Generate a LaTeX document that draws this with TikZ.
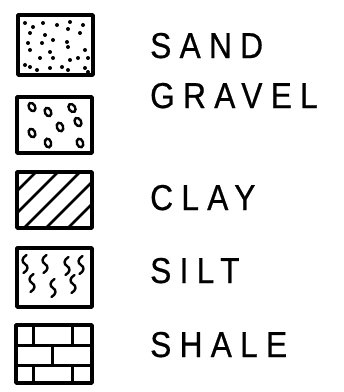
\documentclass[tikz,border=0pt]{standalone}
\usepackage{fontspec}
\setmainfont{Liberation Sans}[LetterSpace=23, FakeStretch=0.88, FakeBold=0.6]
\tikzset{
  x=1pt, y=-1pt,
  legbox/.style={draw, line width=3.4pt, line join=round},
  label/.style={anchor=base west, inner sep=0pt, font=\fontsize{36}{40}\selectfont},
  hatch/.style={line width=2.8pt},
  pebble/.style={line width=2.4pt},
  wisp/.style={line width=2.4pt, line cap=round},
  brick/.style={line width=3pt},
  pics/squig/.style={code={\draw[wisp] (1.5,-9) .. controls (-3.5,-6) and (-3.5,-2) .. (0,0) .. controls (3.5,2) and (3.5,6) .. (-1.5,9);}}
}
\begin{document}
\begin{tikzpicture}
\useasboundingbox (0,0) rectangle (344,392);
% sand
\coordinate (s1) at (18,15); \coordinate (s2) at (93,75);
\foreach \p in {(25,23),(33,27),(43,23),(57,25),(70,22),(68,29),(83,25),(30,33),(45,35),(80,33),(28,43),(42,43),(53,40),(67,42),(68,47),(30,50),(50,52),(85,50),(40,58),(53,58),(70,60),(78,58),(88,58),(25,65),(30,67),(37,70),(50,68),(62,67),(68,70),(85,68),(88,72)}
  \fill \p circle (2);
\draw[legbox] (s1) rectangle (s2);
\node[label] (tsand) at (150,58) {SAND};
% gravel
\coordinate (g1) at (17,97); \coordinate (g2) at (92,153);
\foreach \p/\a in {(32,107)/30,(48,112)/25,(72,108)/35,(78,122)/30,(60,127)/20,(32,133)/25,(48,143)/15,(80,143)/20}
  \draw[pebble, rotate around={\a:\p}] \p ellipse (3.1 and 4.4);
\draw[legbox] (g1) rectangle (g2);
\node[label] (tgravel) at (150,108) {GRAVEL};
% clay
\coordinate (c1) at (17,172); \coordinate (c2) at (92,228);
\begin{scope}
  \clip (c1) rectangle (c2);
  \foreach \c in {208,230,252,274,296,318}
    \draw[hatch] (\c-240,240) -- (\c-160,160);
\end{scope}
\draw[legbox] (c1) rectangle (c2);
\node[label] (tclay) at (150,210) {CLAY};
% silt
\coordinate (t1) at (17,248); \coordinate (t2) at (92,307);
\foreach \p in {(25,264),(32,283),(45,264),(53,288),(67,266),(73,284),(81,265)}
  \pic at \p {squig};
\draw[legbox] (t1) rectangle (t2);
\node[label] (tsilt) at (150,283) {SILT};
% shale
\coordinate (h1) at (16,325); \coordinate (h2) at (92,383);
\draw[brick] (16,345) -- (92,345) (16,365) -- (92,365);
\draw[brick] (33,325) -- (33,345) (72,325) -- (72,345)
             (52,345) -- (52,365)
             (33,365) -- (33,383) (72,365) -- (72,383);
\draw[legbox] (h1) rectangle (h2);
\node[label] (tshale) at (150,357) {SHALE};
\end{tikzpicture}
\end{document}
